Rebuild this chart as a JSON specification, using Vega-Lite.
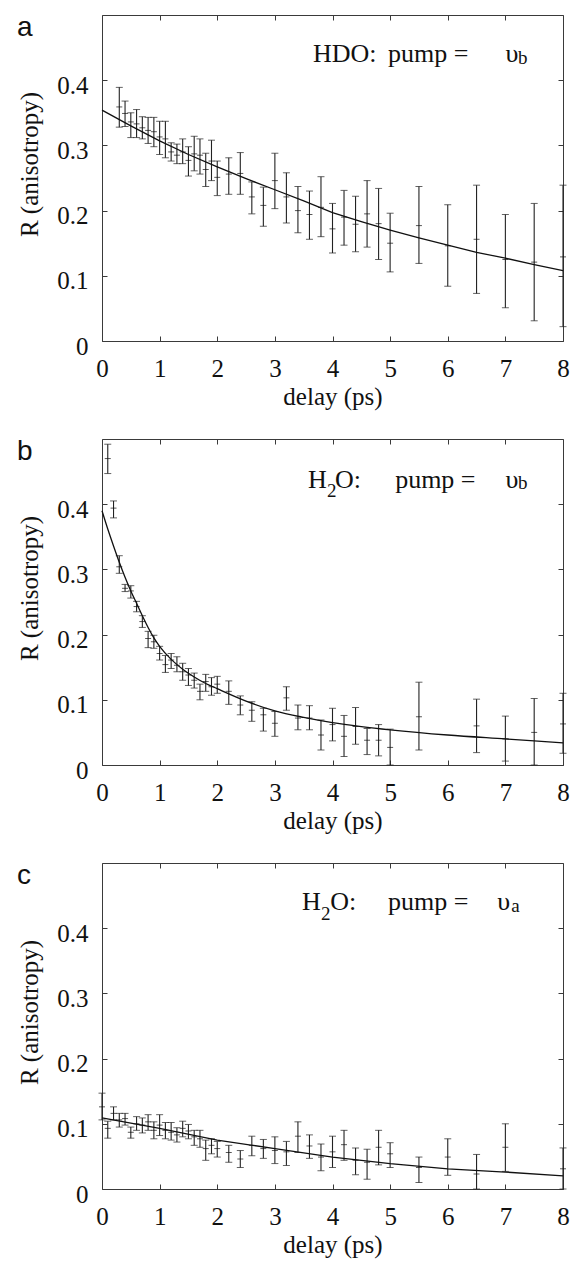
{
  "$schema": "https://vega.github.io/schema/vega-lite/v6.json",
  "background": "white",
  "config": {
    "font": "Liberation Serif",
    "padding": {"left": 17, "top": 13, "right": 2, "bottom": 2},
    "view": {"stroke": null},
    "concat": {"spacing": 28},
    "axis": {
      "domainColor": "#3a3a3a", "domainWidth": 1, "tickColor": "#3a3a3a", "tickSize": -5, "grid": false,
      "labelFont": "Liberation Serif", "labelFontSize": 25, "labelColor": "#111", "labelFlush": false, "labelOverlap": false,
      "titleFont": "Liberation Serif", "titleFontSize": 25, "titleFontWeight": "normal", "titleColor": "#111",
      "labelPadding": 20, "titlePadding": 3
    },
    "axisY": {"labelPadding": 19, "titlePadding": 14, "labelOffset": 5},
    "title": {"font": "Liberation Sans", "fontSize": 28, "fontWeight": "normal", "anchor": "start", "frame": "group", "baseline": "alphabetic", "offset": 0, "dx": -85, "dy": 31, "color": "#111"}
  },
  "datasets": {
    "a": [
      {"t":0.3,"r":0.359,"lo":0.328,"hi":0.389},{"t":0.4,"r":0.349,"lo":0.329,"hi":0.368},{"t":0.5,"r":0.336,"lo":0.312,"hi":0.350},
      {"t":0.6,"r":0.333,"lo":0.312,"hi":0.355},{"t":0.7,"r":0.327,"lo":0.310,"hi":0.344},{"t":0.8,"r":0.323,"lo":0.303,"hi":0.343},
      {"t":0.9,"r":0.321,"lo":0.298,"hi":0.343},{"t":1.0,"r":0.313,"lo":0.286,"hi":0.337},{"t":1.1,"r":0.310,"lo":0.281,"hi":0.337},
      {"t":1.2,"r":0.290,"lo":0.276,"hi":0.304},{"t":1.3,"r":0.285,"lo":0.272,"hi":0.302},{"t":1.4,"r":0.290,"lo":0.272,"hi":0.310},
      {"t":1.5,"r":0.277,"lo":0.253,"hi":0.298},{"t":1.6,"r":0.287,"lo":0.261,"hi":0.314},{"t":1.7,"r":0.285,"lo":0.256,"hi":0.310},
      {"t":1.8,"r":0.263,"lo":0.237,"hi":0.288},{"t":1.9,"r":0.276,"lo":0.246,"hi":0.308},{"t":2.0,"r":0.251,"lo":0.223,"hi":0.276},
      {"t":2.2,"r":0.256,"lo":0.225,"hi":0.281},{"t":2.4,"r":0.257,"lo":0.225,"hi":0.289},{"t":2.6,"r":0.221,"lo":0.195,"hi":0.244},
      {"t":2.8,"r":0.208,"lo":0.176,"hi":0.236},{"t":3.0,"r":0.246,"lo":0.203,"hi":0.288},{"t":3.2,"r":0.221,"lo":0.181,"hi":0.258},
      {"t":3.4,"r":0.200,"lo":0.166,"hi":0.237},{"t":3.6,"r":0.194,"lo":0.156,"hi":0.230},{"t":3.8,"r":0.205,"lo":0.160,"hi":0.252},
      {"t":4.0,"r":0.172,"lo":0.135,"hi":0.211},{"t":4.2,"r":0.190,"lo":0.147,"hi":0.231},{"t":4.4,"r":0.179,"lo":0.137,"hi":0.222},
      {"t":4.6,"r":0.195,"lo":0.144,"hi":0.246},{"t":4.8,"r":0.180,"lo":0.125,"hi":0.234},{"t":5.0,"r":0.150,"lo":0.106,"hi":0.196},
      {"t":5.5,"r":0.177,"lo":0.119,"hi":0.237},{"t":6.0,"r":0.146,"lo":0.084,"hi":0.209},{"t":6.5,"r":0.156,"lo":0.073,"hi":0.239},
      {"t":7.0,"r":0.125,"lo":0.051,"hi":0.194},{"t":7.5,"r":0.121,"lo":0.031,"hi":0.211},{"t":8.0,"r":0.129,"lo":0.022,"hi":0.239}
    ],
    "b": [
      {"t":0.1,"r":0.470,"lo":0.447,"hi":0.492},{"t":0.2,"r":0.394,"lo":0.379,"hi":0.405},{"t":0.3,"r":0.304,"lo":0.294,"hi":0.321},
      {"t":0.4,"r":0.271,"lo":0.266,"hi":0.277},{"t":0.5,"r":0.267,"lo":0.256,"hi":0.275},{"t":0.6,"r":0.243,"lo":0.235,"hi":0.251},
      {"t":0.7,"r":0.220,"lo":0.211,"hi":0.229},{"t":0.8,"r":0.194,"lo":0.180,"hi":0.205},{"t":0.9,"r":0.189,"lo":0.179,"hi":0.199},
      {"t":1.0,"r":0.171,"lo":0.161,"hi":0.182},{"t":1.1,"r":0.154,"lo":0.142,"hi":0.168},{"t":1.2,"r":0.161,"lo":0.148,"hi":0.171},
      {"t":1.3,"r":0.153,"lo":0.143,"hi":0.166},{"t":1.4,"r":0.143,"lo":0.130,"hi":0.156},{"t":1.5,"r":0.138,"lo":0.122,"hi":0.148},
      {"t":1.6,"r":0.130,"lo":0.118,"hi":0.141},{"t":1.7,"r":0.113,"lo":0.100,"hi":0.124},{"t":1.8,"r":0.128,"lo":0.113,"hi":0.139},
      {"t":1.9,"r":0.120,"lo":0.107,"hi":0.134},{"t":2.0,"r":0.124,"lo":0.110,"hi":0.136},{"t":2.2,"r":0.113,"lo":0.093,"hi":0.129},
      {"t":2.4,"r":0.092,"lo":0.077,"hi":0.106},{"t":2.6,"r":0.084,"lo":0.067,"hi":0.097},{"t":2.8,"r":0.077,"lo":0.052,"hi":0.087},
      {"t":3.0,"r":0.064,"lo":0.044,"hi":0.082},{"t":3.2,"r":0.103,"lo":0.084,"hi":0.120},{"t":3.4,"r":0.072,"lo":0.054,"hi":0.092},
      {"t":3.6,"r":0.072,"lo":0.054,"hi":0.091},{"t":3.8,"r":0.046,"lo":0.023,"hi":0.069},{"t":4.0,"r":0.062,"lo":0.037,"hi":0.087},
      {"t":4.2,"r":0.044,"lo":0.013,"hi":0.076},{"t":4.4,"r":0.059,"lo":0.032,"hi":0.088},{"t":4.6,"r":0.038,"lo":0.016,"hi":0.056},
      {"t":4.8,"r":0.038,"lo":0.014,"hi":0.062},{"t":5.0,"r":0.027,"lo":0.000,"hi":0.055},{"t":5.5,"r":0.074,"lo":0.023,"hi":0.127},
      {"t":6.5,"r":0.060,"lo":0.019,"hi":0.101},{"t":7.0,"r":0.040,"lo":0.006,"hi":0.075},{"t":7.5,"r":0.050,"lo":0.000,"hi":0.102},
      {"t":8.0,"r":0.063,"lo":0.018,"hi":0.110}
    ],
    "c": [
      {"t":0.0,"r":0.126,"lo":0.106,"hi":0.147},{"t":0.1,"r":0.093,"lo":0.078,"hi":0.104},{"t":0.2,"r":0.116,"lo":0.106,"hi":0.126},
      {"t":0.3,"r":0.106,"lo":0.095,"hi":0.116},{"t":0.4,"r":0.108,"lo":0.098,"hi":0.116},{"t":0.5,"r":0.087,"lo":0.078,"hi":0.095},
      {"t":0.6,"r":0.100,"lo":0.090,"hi":0.111},{"t":0.7,"r":0.098,"lo":0.086,"hi":0.109},{"t":0.8,"r":0.103,"lo":0.090,"hi":0.114},
      {"t":0.9,"r":0.090,"lo":0.077,"hi":0.103},{"t":1.0,"r":0.098,"lo":0.082,"hi":0.114},{"t":1.1,"r":0.090,"lo":0.077,"hi":0.102},
      {"t":1.2,"r":0.087,"lo":0.075,"hi":0.102},{"t":1.3,"r":0.083,"lo":0.072,"hi":0.094},{"t":1.4,"r":0.093,"lo":0.080,"hi":0.104},
      {"t":1.5,"r":0.089,"lo":0.077,"hi":0.099},{"t":1.6,"r":0.080,"lo":0.067,"hi":0.090},{"t":1.7,"r":0.077,"lo":0.064,"hi":0.090},
      {"t":1.8,"r":0.062,"lo":0.044,"hi":0.075},{"t":1.9,"r":0.067,"lo":0.054,"hi":0.077},{"t":2.0,"r":0.062,"lo":0.049,"hi":0.073},
      {"t":2.2,"r":0.056,"lo":0.041,"hi":0.067},{"t":2.4,"r":0.046,"lo":0.033,"hi":0.059},{"t":2.6,"r":0.067,"lo":0.051,"hi":0.081},
      {"t":2.8,"r":0.062,"lo":0.047,"hi":0.076},{"t":3.0,"r":0.059,"lo":0.039,"hi":0.080},{"t":3.2,"r":0.057,"lo":0.036,"hi":0.073},
      {"t":3.4,"r":0.081,"lo":0.056,"hi":0.103},{"t":3.6,"r":0.066,"lo":0.047,"hi":0.083},{"t":3.8,"r":0.049,"lo":0.028,"hi":0.069},
      {"t":4.0,"r":0.057,"lo":0.033,"hi":0.081},{"t":4.2,"r":0.068,"lo":0.044,"hi":0.090},{"t":4.4,"r":0.044,"lo":0.022,"hi":0.063},
      {"t":4.6,"r":0.041,"lo":0.015,"hi":0.061},{"t":4.8,"r":0.064,"lo":0.037,"hi":0.090},{"t":5.0,"r":0.054,"lo":0.033,"hi":0.071},
      {"t":5.5,"r":0.033,"lo":0.010,"hi":0.049},{"t":6.0,"r":0.049,"lo":0.021,"hi":0.077},{"t":6.5,"r":0.023,"lo":0.000,"hi":0.053},
      {"t":7.0,"r":0.064,"lo":0.027,"hi":0.100},{"t":8.0,"r":0.031,"lo":0.000,"hi":0.063}
    ],
    "fa": [
      {"t":0,"r":0.354},{"t":0.5,"r":0.330},{"t":1,"r":0.307},{"t":1.5,"r":0.286},{"t":2,"r":0.267},{"t":2.5,"r":0.249},
      {"t":3,"r":0.232},{"t":3.5,"r":0.215},{"t":4,"r":0.197},{"t":4.5,"r":0.183},{"t":5,"r":0.170},{"t":5.5,"r":0.158},
      {"t":6,"r":0.147},{"t":6.5,"r":0.136},{"t":7,"r":0.127},{"t":7.5,"r":0.117},{"t":8,"r":0.108}
    ],
    "fb": [
      {"t":0,"r":0.390},{"t":0.1,"r":0.362},{"t":0.2,"r":0.336},{"t":0.3,"r":0.311},{"t":0.4,"r":0.288},{"t":0.5,"r":0.267},
      {"t":0.6,"r":0.248},{"t":0.7,"r":0.229},{"t":0.8,"r":0.211},{"t":0.9,"r":0.195},{"t":1.0,"r":0.182},{"t":1.2,"r":0.162},
      {"t":1.4,"r":0.147},{"t":1.6,"r":0.135},{"t":1.8,"r":0.125},{"t":2.0,"r":0.117},{"t":2.5,"r":0.098},{"t":3.0,"r":0.083},
      {"t":3.5,"r":0.073},{"t":4.0,"r":0.065},{"t":4.5,"r":0.059},{"t":5.0,"r":0.054},{"t":6.0,"r":0.046},{"t":7.0,"r":0.040},
      {"t":8.0,"r":0.034}
    ],
    "fc": [
      {"t":0,"r":0.109},{"t":1,"r":0.093},{"t":2,"r":0.075},{"t":3,"r":0.062},{"t":4,"r":0.049},{"t":5,"r":0.039},
      {"t":6,"r":0.031},{"t":7,"r":0.026},{"t":8,"r":0.020}
    ],
    "ta": [{"x":3.66,"y":0.428,"s":"HDO:"},{"x":4.965,"y":0.428,"s":"pump ="},{"x":7.0,"y":0.428,"s":"υ"}],
    "sa": [{"x":7.22,"y":0.4255,"s":"b"}],
    "tb": [{"x":3.576,"y":0.4253,"s":"H"},{"x":4.045,"y":0.4253,"s":"O:"},{"x":5.087,"y":0.4253,"s":"pump ="},{"x":7.0,"y":0.4253,"s":"υ"}],
    "sb": [{"x":3.906,"y":0.411,"s":"2"},{"x":7.22,"y":0.423,"s":"b"}],
    "tc": [{"x":3.47,"y":0.4275,"s":"H"},{"x":3.96,"y":0.4275,"s":"O:"},{"x":4.965,"y":0.4275,"s":"pump ="},{"x":6.86,"y":0.4275,"s":"υ"}],
    "sc": [{"x":3.80,"y":0.412,"s":"2"},{"x":7.1,"y":0.4255,"s":"a"}]
  },
  "vconcat": [
    {
      "width": 461, "height": 326,
      "title": {"text": "a"},
      "resolve": {"axis": {"x": "independent", "y": "independent"}},
      "layer": [
        {"data": {"name": "a"}, "mark": {"type": "rule", "color": "#222", "strokeWidth": 1.1},
         "encoding": {
           "x": {"field": "t", "type": "quantitative", "scale": {"domain": [0, 8]}, "axis": {"orient": "bottom", "values": [0,1,2,3,4,5,6,7,8], "title": "delay (ps)"}},
           "y": {"field": "lo", "type": "quantitative", "scale": {"domain": [0, 0.5]}, "axis": {"orient": "left", "values": [0,0.1,0.2,0.3,0.4], "format": "~g", "title": "R (anisotropy)", "titleY": 149}},
           "y2": {"field": "hi"}}},
        {"data": {"name": "a"}, "mark": {"type": "tick", "orient": "horizontal", "size": 7, "thickness": 1, "color": "#222"},
         "encoding": {
           "x": {"field": "t", "type": "quantitative", "scale": {"domain": [0, 8]}, "axis": {"orient": "top", "values": [0,1,2,3,4,5,6,7,8], "labels": false, "title": null}},
           "y": {"field": "hi", "type": "quantitative", "scale": {"domain": [0, 0.5]}, "axis": {"orient": "right", "values": [0,0.1,0.2,0.3,0.4], "labels": false, "title": null}}}},
        {"data": {"name": "a"}, "mark": {"type": "tick", "orient": "horizontal", "size": 7, "thickness": 1, "color": "#222"},
         "encoding": {
           "x": {"field": "t", "type": "quantitative", "scale": {"domain": [0, 8]}, "axis": null},
           "y": {"field": "lo", "type": "quantitative", "scale": {"domain": [0, 0.5]}, "axis": null}}},
        {"data": {"name": "a"}, "mark": {"type": "tick", "orient": "horizontal", "size": 6, "thickness": 1, "color": "#111"},
         "encoding": {
           "x": {"field": "t", "type": "quantitative", "scale": {"domain": [0, 8]}, "axis": null},
           "y": {"field": "r", "type": "quantitative", "scale": {"domain": [0, 0.5]}, "axis": null}}},
        {"data": {"name": "fa"}, "mark": {"type": "line", "color": "#111", "strokeWidth": 1.3},
         "encoding": {
           "x": {"field": "t", "type": "quantitative", "scale": {"domain": [0, 8]}, "axis": null},
           "y": {"field": "r", "type": "quantitative", "scale": {"domain": [0, 0.5]}, "axis": null}}},
        {"data": {"name": "ta"}, "mark": {"type": "text", "align": "left", "baseline": "alphabetic", "font": "Liberation Serif", "fontSize": 26, "color": "#111"},
         "encoding": {
           "x": {"field": "x", "type": "quantitative", "scale": {"domain": [0, 8]}, "axis": null},
           "y": {"field": "y", "type": "quantitative", "scale": {"domain": [0, 0.5]}, "axis": null},
           "text": {"field": "s"}}},
        {"data": {"name": "sa"}, "mark": {"type": "text", "align": "left", "baseline": "alphabetic", "font": "Liberation Serif", "fontSize": 19, "color": "#111"},
         "encoding": {
           "x": {"field": "x", "type": "quantitative", "scale": {"domain": [0, 8]}, "axis": null},
           "y": {"field": "y", "type": "quantitative", "scale": {"domain": [0, 0.5]}, "axis": null},
           "text": {"field": "s"}}}
      ]
    },
    {
      "width": 461, "height": 326,
      "title": {"text": "b"},
      "resolve": {"axis": {"x": "independent", "y": "independent"}},
      "layer": [
        {"data": {"name": "b"}, "mark": {"type": "rule", "color": "#222", "strokeWidth": 1.1},
         "encoding": {
           "x": {"field": "t", "type": "quantitative", "scale": {"domain": [0, 8]}, "axis": {"orient": "bottom", "values": [0,1,2,3,4,5,6,7,8], "title": "delay (ps)"}},
           "y": {"field": "lo", "type": "quantitative", "scale": {"domain": [0, 0.5]}, "axis": {"orient": "left", "values": [0,0.1,0.2,0.3,0.4], "format": "~g", "title": "R (anisotropy)", "titleY": 149}},
           "y2": {"field": "hi"}}},
        {"data": {"name": "b"}, "mark": {"type": "tick", "orient": "horizontal", "size": 7, "thickness": 1, "color": "#222"},
         "encoding": {
           "x": {"field": "t", "type": "quantitative", "scale": {"domain": [0, 8]}, "axis": {"orient": "top", "values": [0,1,2,3,4,5,6,7,8], "labels": false, "title": null}},
           "y": {"field": "hi", "type": "quantitative", "scale": {"domain": [0, 0.5]}, "axis": {"orient": "right", "values": [0,0.1,0.2,0.3,0.4], "labels": false, "title": null}}}},
        {"data": {"name": "b"}, "mark": {"type": "tick", "orient": "horizontal", "size": 7, "thickness": 1, "color": "#222"},
         "encoding": {
           "x": {"field": "t", "type": "quantitative", "scale": {"domain": [0, 8]}, "axis": null},
           "y": {"field": "lo", "type": "quantitative", "scale": {"domain": [0, 0.5]}, "axis": null}}},
        {"data": {"name": "b"}, "mark": {"type": "tick", "orient": "horizontal", "size": 6, "thickness": 1, "color": "#111"},
         "encoding": {
           "x": {"field": "t", "type": "quantitative", "scale": {"domain": [0, 8]}, "axis": null},
           "y": {"field": "r", "type": "quantitative", "scale": {"domain": [0, 0.5]}, "axis": null}}},
        {"data": {"name": "fb"}, "mark": {"type": "line", "color": "#111", "strokeWidth": 1.3, "interpolate": "monotone"},
         "encoding": {
           "x": {"field": "t", "type": "quantitative", "scale": {"domain": [0, 8]}, "axis": null},
           "y": {"field": "r", "type": "quantitative", "scale": {"domain": [0, 0.5]}, "axis": null}}},
        {"data": {"name": "tb"}, "mark": {"type": "text", "align": "left", "baseline": "alphabetic", "font": "Liberation Serif", "fontSize": 26, "color": "#111"},
         "encoding": {
           "x": {"field": "x", "type": "quantitative", "scale": {"domain": [0, 8]}, "axis": null},
           "y": {"field": "y", "type": "quantitative", "scale": {"domain": [0, 0.5]}, "axis": null},
           "text": {"field": "s"}}},
        {"data": {"name": "sb"}, "mark": {"type": "text", "align": "left", "baseline": "alphabetic", "font": "Liberation Serif", "fontSize": 19, "color": "#111"},
         "encoding": {
           "x": {"field": "x", "type": "quantitative", "scale": {"domain": [0, 8]}, "axis": null},
           "y": {"field": "y", "type": "quantitative", "scale": {"domain": [0, 0.5]}, "axis": null},
           "text": {"field": "s"}}}
      ]
    },
    {
      "width": 461, "height": 326,
      "title": {"text": "c"},
      "resolve": {"axis": {"x": "independent", "y": "independent"}},
      "layer": [
        {"data": {"name": "c"}, "mark": {"type": "rule", "color": "#222", "strokeWidth": 1.1},
         "encoding": {
           "x": {"field": "t", "type": "quantitative", "scale": {"domain": [0, 8]}, "axis": {"orient": "bottom", "values": [0,1,2,3,4,5,6,7,8], "title": "delay (ps)"}},
           "y": {"field": "lo", "type": "quantitative", "scale": {"domain": [0, 0.5]}, "axis": {"orient": "left", "values": [0,0.1,0.2,0.3,0.4], "format": "~g", "title": "R (anisotropy)", "titleY": 149}},
           "y2": {"field": "hi"}}},
        {"data": {"name": "c"}, "mark": {"type": "tick", "orient": "horizontal", "size": 7, "thickness": 1, "color": "#222"},
         "encoding": {
           "x": {"field": "t", "type": "quantitative", "scale": {"domain": [0, 8]}, "axis": {"orient": "top", "values": [0,1,2,3,4,5,6,7,8], "labels": false, "title": null}},
           "y": {"field": "hi", "type": "quantitative", "scale": {"domain": [0, 0.5]}, "axis": {"orient": "right", "values": [0,0.1,0.2,0.3,0.4], "labels": false, "title": null}}}},
        {"data": {"name": "c"}, "mark": {"type": "tick", "orient": "horizontal", "size": 7, "thickness": 1, "color": "#222"},
         "encoding": {
           "x": {"field": "t", "type": "quantitative", "scale": {"domain": [0, 8]}, "axis": null},
           "y": {"field": "lo", "type": "quantitative", "scale": {"domain": [0, 0.5]}, "axis": null}}},
        {"data": {"name": "c"}, "mark": {"type": "tick", "orient": "horizontal", "size": 6, "thickness": 1, "color": "#111"},
         "encoding": {
           "x": {"field": "t", "type": "quantitative", "scale": {"domain": [0, 8]}, "axis": null},
           "y": {"field": "r", "type": "quantitative", "scale": {"domain": [0, 0.5]}, "axis": null}}},
        {"data": {"name": "fc"}, "mark": {"type": "line", "color": "#111", "strokeWidth": 1.3},
         "encoding": {
           "x": {"field": "t", "type": "quantitative", "scale": {"domain": [0, 8]}, "axis": null},
           "y": {"field": "r", "type": "quantitative", "scale": {"domain": [0, 0.5]}, "axis": null}}},
        {"data": {"name": "tc"}, "mark": {"type": "text", "align": "left", "baseline": "alphabetic", "font": "Liberation Serif", "fontSize": 26, "color": "#111"},
         "encoding": {
           "x": {"field": "x", "type": "quantitative", "scale": {"domain": [0, 8]}, "axis": null},
           "y": {"field": "y", "type": "quantitative", "scale": {"domain": [0, 0.5]}, "axis": null},
           "text": {"field": "s"}}},
        {"data": {"name": "sc"}, "mark": {"type": "text", "align": "left", "baseline": "alphabetic", "font": "Liberation Serif", "fontSize": 19, "color": "#111"},
         "encoding": {
           "x": {"field": "x", "type": "quantitative", "scale": {"domain": [0, 8]}, "axis": null},
           "y": {"field": "y", "type": "quantitative", "scale": {"domain": [0, 0.5]}, "axis": null},
           "text": {"field": "s"}}}
      ]
    }
  ]
}
